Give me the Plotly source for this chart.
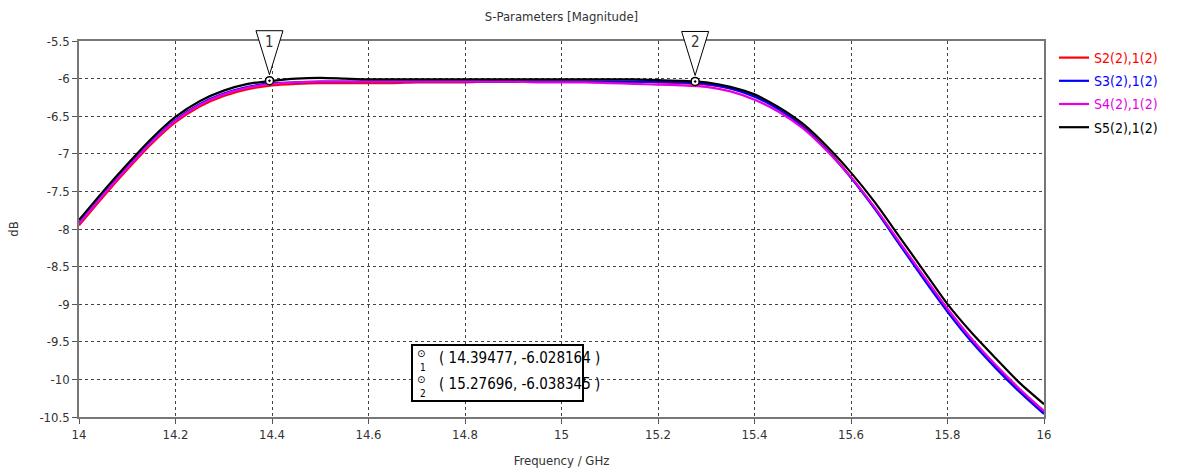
import plotly.graph_objects as go

# ---------------- data ----------------
freq = [14.00, 14.05, 14.10, 14.15, 14.20, 14.25, 14.30, 14.35, 14.40, 14.45,
        14.50, 14.55, 14.60, 14.65, 14.70, 14.75, 14.80, 14.85, 14.90, 14.95,
        15.00, 15.05, 15.10, 15.15, 15.20, 15.25, 15.30, 15.35, 15.40, 15.45,
        15.50, 15.55, 15.60, 15.65, 15.70, 15.75, 15.80, 15.85, 15.90, 15.95, 16.00]

s21 = [-7.95, -7.57, -7.21, -6.87, -6.58, -6.37, -6.23, -6.14, -6.09, -6.07,
       -6.06, -6.06, -6.06, -6.06, -6.05, -6.05, -6.05, -6.04, -6.04, -6.04,
       -6.04, -6.04, -6.04, -6.04, -6.05, -6.06, -6.08, -6.13, -6.23, -6.40,
       -6.63, -6.94, -7.31, -7.73, -8.19, -8.64, -9.08, -9.48, -9.83, -10.15, -10.43]

s31 = [-7.92, -7.54, -7.18, -6.84, -6.55, -6.34, -6.20, -6.11, -6.06, -6.05,
       -6.04, -6.04, -6.04, -6.04, -6.04, -6.04, -6.04, -6.04, -6.04, -6.04,
       -6.04, -6.04, -6.04, -6.04, -6.04, -6.05, -6.07, -6.13, -6.24, -6.41,
       -6.64, -6.95, -7.32, -7.74, -8.20, -8.66, -9.10, -9.50, -9.85, -10.17, -10.46]

s41 = [-7.93, -7.55, -7.19, -6.85, -6.56, -6.35, -6.21, -6.12, -6.07, -6.05,
       -6.04, -6.04, -6.04, -6.04, -6.04, -6.04, -6.04, -6.04, -6.04, -6.05,
       -6.05, -6.05, -6.06, -6.07, -6.08, -6.09, -6.11, -6.17, -6.28, -6.44,
       -6.66, -6.96, -7.31, -7.72, -8.17, -8.62, -9.06, -9.46, -9.81, -10.13, -10.42]

s51 = [-7.88, -7.50, -7.14, -6.80, -6.51, -6.30, -6.16, -6.07, -6.03, -6.00,
       -5.99, -6.00, -6.01, -6.01, -6.01, -6.01, -6.01, -6.01, -6.01, -6.01,
       -6.01, -6.01, -6.01, -6.01, -6.02, -6.03, -6.05, -6.11, -6.21, -6.38,
       -6.60, -6.90, -7.25, -7.65, -8.10, -8.55, -9.00, -9.38, -9.72, -10.05, -10.33]

series_names = ["S2(2),1(2)", "S3(2),1(2)", "S4(2),1(2)", "S5(2),1(2)"]
series_colors = ["#ff0000", "#0000ff", "#e600e6", "#000000"]

marker_ids = ["1", "2"]
marker_x = [14.39477, 15.27696]
marker_y = [-6.028164, -6.038345]
marker_label_y = ["-6.028164", "-6.038345"]

x_ticks = [14, 14.2, 14.4, 14.6, 14.8, 15, 15.2, 15.4, 15.6, 15.8, 16]
x_tick_text = ["14", "14.2", "14.4", "14.6", "14.8", "15", "15.2", "15.4", "15.6", "15.8", "16"]
y_ticks = [-10.5, -10, -9.5, -9, -8.5, -8, -7.5, -7, -6.5, -6, -5.5]
y_tick_text = ["-10.5", "-10", "-9.5", "-9", "-8.5", "-8", "-7.5", "-7", "-6.5", "-6", "-5.5"]

X_RANGE = [14, 16]
Y_RANGE = [-10.5, -5.5]

FONT = "DejaVu Sans Condensed, Liberation Sans, sans-serif"

fig = go.Figure()

for name, col, ys in zip(series_names, series_colors, [s21, s31, s41, s51]):
    fig.add_trace(go.Scatter(
        x=freq, y=ys, mode="lines",
        line=dict(color=col, width=2.2, shape="spline", smoothing=0.6),
        name=f"<span style='color:{col}'>{name}</span>",
        legendgroup=name,
    ))

# marker points on curve
fig.add_trace(go.Scatter(
    x=marker_x, y=marker_y, mode="markers",
    marker=dict(symbol="circle-dot", size=8, color="white",
                line=dict(color="black", width=1.5)),
    showlegend=False, hoverinfo="skip",
))

shapes = []
annotations = []

def ypaper(v):
    return (v - Y_RANGE[0]) / (Y_RANGE[1] - Y_RANGE[0])

# inverted triangles above marker points
for mid, mx, my in zip(marker_ids, marker_x, marker_y):
    shapes.append(dict(
        type="path", xref="x", yref="paper",
        xsizemode="pixel", ysizemode="pixel",
        xanchor=mx, yanchor=ypaper(my),
        path="M -13.5 50 L 13.5 50 L 0 6 Z",
        line=dict(color="black", width=1), fillcolor="white", layer="above",
    ))
    annotations.append(dict(
        x=mx, y=my, xref="x", yref="y", text=mid, showarrow=False,
        xanchor="center", yanchor="middle",
        yshift=39, font=dict(family=FONT, size=15, color="#333"),
    ))

# readout box
px = lambda p: (p - 79) / 965
py = lambda p: (417 - p) / 376
shapes.append(dict(type="rect", xref="paper", yref="paper",
                   x0=px(412), x1=px(583), y0=py(401), y1=py(345),
                   line=dict(color="black", width=2), fillcolor="white", layer="above"))
row_y = [358, 384]
for mid, mx, ml, ry in zip(marker_ids, marker_x, marker_label_y, row_y):
    annotations.append(dict(
        x=px(437), y=py(ry), xref="paper", yref="paper",
        xanchor="left", yanchor="middle",
        text=f"( {mx:.5f}, {ml} )", showarrow=False,
        font=dict(family=FONT, size=15, color="#000"),
    ))
    annotations.append(dict(
        x=px(421), y=py(ry - 5), xref="paper", yref="paper",
        xanchor="center", yanchor="middle",
        text="⊙", showarrow=False,
        font=dict(family="DejaVu Sans", size=10, color="#000"),
    ))
    annotations.append(dict(
        x=px(423), y=py(ry + 9), xref="paper", yref="paper",
        xanchor="center", yanchor="middle",
        text=mid, showarrow=False,
        font=dict(family=FONT, size=10, color="#000"),
    ))

fig.update_layout(
    width=1185, height=468,
    margin=dict(l=79, r=141, t=41, b=51, autoexpand=False),
    paper_bgcolor="white", plot_bgcolor="white",
    font=dict(family=FONT, size=13, color="#333"),
    title=dict(text="S-Parameters [Magnitude]", x=0.5, xref="paper",
               y=1 - 16 / 468, yanchor="middle",
               font=dict(family=FONT, size=13, color="#333")),
    showlegend=True,
    legend=dict(x=px(1054), xanchor="left", y=py(42), yanchor="top",
                font=dict(family=FONT, size=14), tracegroupgap=2,
                bgcolor="rgba(0,0,0,0)", borderwidth=0),
    shapes=shapes, annotations=annotations,
)

fig.update_xaxes(
    range=X_RANGE, tickvals=x_ticks, ticktext=x_tick_text,
    showgrid=True, gridcolor="#444", griddash="dot", gridwidth=1,
    showline=True, linecolor="#777", linewidth=1.5, mirror=True,
    ticks="outside", ticklen=5, tickcolor="#555",
    zeroline=False, automargin=False,
    title=dict(text="Frequency / GHz", standoff=16, font=dict(size=13, color="#333")),
    tickfont=dict(size=13, color="#333"),
)
fig.update_yaxes(
    range=Y_RANGE, tickvals=y_ticks, ticktext=y_tick_text,
    showgrid=True, gridcolor="#444", griddash="dot", gridwidth=1,
    showline=True, linecolor="#777", linewidth=1.5, mirror=True,
    ticks="outside", ticklen=5, tickcolor="#555",
    zeroline=False, automargin=False,
    title=dict(text="dB", standoff=18, font=dict(size=13, color="#333")),
    tickfont=dict(size=13, color="#333"),
)

fig.write_html("out.html")
